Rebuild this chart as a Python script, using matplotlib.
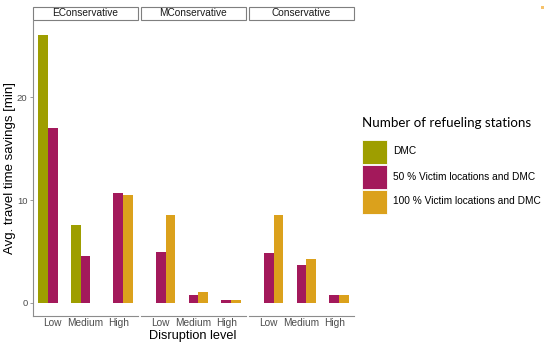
import numpy as np
import matplotlib
matplotlib.use("Agg")
import matplotlib.pyplot as plt
from matplotlib.patches import Rectangle

W, H = 550, 344

panels = ["EConservative", "MConservative", "Conservative"]
levels = ["Low", "Medium", "High"]
series = ["DMC", "50 % Victim locations and DMC", "100 % Victim locations and DMC"]
colors = ["#9E9E00", "#A3195B", "#DBA11C"]

# values per panel: [Low, Medium, High]
dmc = [[26.1, 7.6, np.nan], [np.nan, np.nan, np.nan], [np.nan, np.nan, np.nan]]
victim50 = [[17.0, 4.5, 10.7], [4.9, 0.7, 0.3], [4.85, 3.65, 0.75]]
victim100 = [[np.nan, np.nan, 10.5], [8.55, 1.07, 0.3], [8.55, 4.3, 0.75]]
values = [dmc, victim50, victim100]

font = ["Liberation Sans", "DejaVu Sans"]
plt.rcParams["font.family"] = font


def fx(px):
    return px / W


def fy(py):
    return 1 - py / H


fig = plt.figure(figsize=(W / 100, H / 100), dpi=100)

panel_left = [33, 141, 249]
panel_w = 105
top, bottom = 21, 316
x = np.arange(1, len(levels) + 1)
width = 0.3

for p, name in enumerate(panels):
    ax = fig.add_axes([fx(panel_left[p]), fy(bottom), fx(panel_w), (bottom - top) / H])
    for s in range(len(series)):
        ax.bar(x + (s - 1) * width, values[s][p], width=width, color=colors[s], linewidth=0)
    ax.set_xlim(0.4, 3.6)
    ax.set_ylim(-1.3, 27.45)
    ax.set_xticks(x)
    ax.set_xticklabels(levels, fontsize=7.3, color="#4D4D4D")
    ax.tick_params(axis="x", length=0, pad=1.5)
    for sp in ["top", "right"]:
        ax.spines[sp].set_visible(False)
    ax.spines["bottom"].set_color("#8C8C8C")
    ax.spines["bottom"].set_linewidth(0.8)
    if p == 0:
        ax.set_yticks([0, 10, 20])
        ax.tick_params(axis="y", length=2.5, width=0.6, color="#8C8C8C", labelsize=6.8,
                       labelcolor="#4D4D4D", pad=1.5)
        ax.spines["left"].set_color("#8C8C8C")
        ax.spines["left"].set_linewidth(0.8)
    else:
        ax.spines["left"].set_visible(False)
        ax.set_yticks([])

    # facet strip
    fig.patches.append(Rectangle((fx(panel_left[p]), fy(20)), fx(panel_w), 13 / H,
                                 transform=fig.transFigure, facecolor="white",
                                 edgecolor="#7F7F7F", linewidth=0.8))
    fig.text(fx(panel_left[p] + panel_w / 2), fy(13.5), name, ha="center", va="center",
             fontsize=7.3, color="#1A1A1A")

fig.text(fx(193), fy(335.5), "Disruption level", ha="center", va="center", fontsize=9.2)
fig.text(fx(10), fy(168), "Avg. travel time savings [min]", ha="center", va="center",
         rotation=90, fontsize=9.5)

# legend
fig.text(fx(362), fy(123), "Number of refueling stations", ha="left", va="center",
         fontsize=9.6, family=["Lato", "DejaVu Sans"])
key_tops = [139, 164, 189]
for s, label in enumerate(series):
    fig.patches.append(Rectangle((fx(362), fy(key_tops[s] + 25)), fx(25), 24.5 / H,
                                 transform=fig.transFigure, facecolor=colors[s],
                                 edgecolor="white", linewidth=0.6))
    fig.text(fx(393), fy(key_tops[s] + 12.5), label, ha="left", va="center", fontsize=7.3)

# small mark in the corner
fig.patches.append(Rectangle((fx(541), fy(9)), fx(3), 3 / H, transform=fig.transFigure,
                             facecolor="#F6C26B", edgecolor="none"))

fig.savefig("out.png", dpi=100)
